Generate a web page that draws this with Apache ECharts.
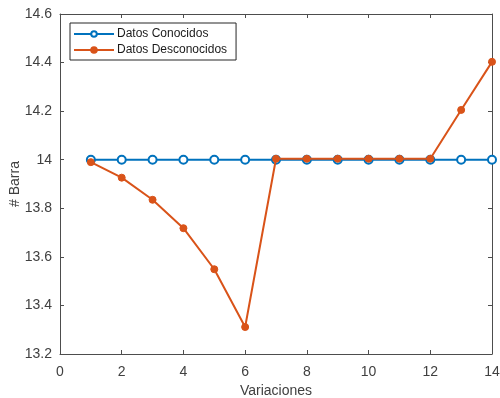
<!DOCTYPE html>
<html>
<head>
<meta charset="utf-8">
<script src="https://cdn.jsdelivr.net/npm/echarts@6/dist/echarts.min.js"></script>
<style>
  html, body { margin: 0; padding: 0; background: #fff; }
  #chart { width: 500px; height: 398px; }
</style>
</head>
<body>
<div id="chart"></div>
<script>
// datos
const variaciones = [1, 2, 3, 4, 5, 6, 7, 8, 9, 10, 11, 12, 13, 14];
const conocidos = [14, 14, 14, 14, 14, 14, 14, 14, 14, 14, 14, 14, 14, 14];
const desconocidos = [13.99, 13.926, 13.835, 13.718, 13.549, 13.311, 14.004, 14.004, 14.004, 14.004, 14.004, 14.004, 14.205, 14.403];

const axisColor = "#4d4d4d";
const textColor = "#404040";
const font = "Arial, 'Liberation Sans', sans-serif";

const chart = echarts.init(document.getElementById("chart"));

const baseX = {
  type: "value",
  min: 0,
  max: 14,
  interval: 2,
  splitLine: { show: false },
  axisLine: { show: true, onZero: false, lineStyle: { color: axisColor, width: 1 } },
  axisTick: { show: true, inside: true, length: 4, lineStyle: { color: axisColor } },
};
const baseY = {
  type: "value",
  min: 13.2,
  max: 14.6,
  interval: 0.2,
  splitLine: { show: false },
  axisLine: { show: true, onZero: false, lineStyle: { color: axisColor, width: 1 } },
  axisTick: { show: true, inside: true, length: 4, lineStyle: { color: axisColor } },
};

const option = {
  animation: false,
  backgroundColor: "#fff",
  textStyle: { fontFamily: font },
  grid: { left: 60, right: 8, top: 14, bottom: 44, containLabel: false, outerBoundsMode: "none" },
  legend: {
    orient: "vertical",
    left: 70,
    top: 23,
    padding: [5, 9, 4, 3],
    itemWidth: 40,
    itemHeight: 7,
    itemGap: 4,
    borderColor: "#262626",
    borderWidth: 1,
    backgroundColor: "#fff",
    textStyle: { fontSize: 12, color: "#1a1a1a", fontFamily: font, padding: [0, 0, 0, -2] },
    data: ["Datos Conocidos", "Datos Desconocidos"],
  },
  xAxis: [
    Object.assign({}, baseX, {
      position: "bottom",
      name: "Variaciones",
      nameLocation: "middle",
      nameGap: 30,
      nameMoveOverlap: false,
      nameTextStyle: { fontSize: 14, color: textColor, fontFamily: font },
      axisLabel: { fontSize: 14, color: textColor, margin: 11, fontFamily: font },
    }),
    Object.assign({}, baseX, {
      position: "top",
      axisLabel: { show: false },
    }),
  ],
  yAxis: [
    Object.assign({}, baseY, {
      position: "left",
      name: "# Barra",
      nameLocation: "middle",
      nameGap: 38,
      nameMoveOverlap: false,
      nameTextStyle: { fontSize: 14, color: textColor, fontFamily: font },
      axisLabel: {
        fontSize: 14,
        color: textColor,
        margin: 8,
        fontFamily: font,
        formatter: (v) => String(Math.round(v * 10) / 10),
      },
    }),
    Object.assign({}, baseY, {
      position: "right",
      axisLabel: { show: false },
    }),
  ],
  series: [
    {
      name: "Datos Conocidos",
      type: "line",
      data: variaciones.map((x, i) => [x, conocidos[i]]),
      symbol: "circle",
      symbolSize: 8,
      lineStyle: { color: "#0072BD", width: 2 },
      itemStyle: { color: "#fff", borderColor: "#0072BD", borderWidth: 2 },
      z: 2,
    },
    {
      name: "Datos Desconocidos",
      type: "line",
      data: variaciones.map((x, i) => [x, desconocidos[i]]),
      symbol: "circle",
      symbolSize: 7,
      lineStyle: { color: "#D95319", width: 2 },
      itemStyle: { color: "#D95319", borderColor: "#D95319", borderWidth: 1 },
      z: 3,
    },
  ],
};

chart.setOption(option);
</script>
</body>
</html>
